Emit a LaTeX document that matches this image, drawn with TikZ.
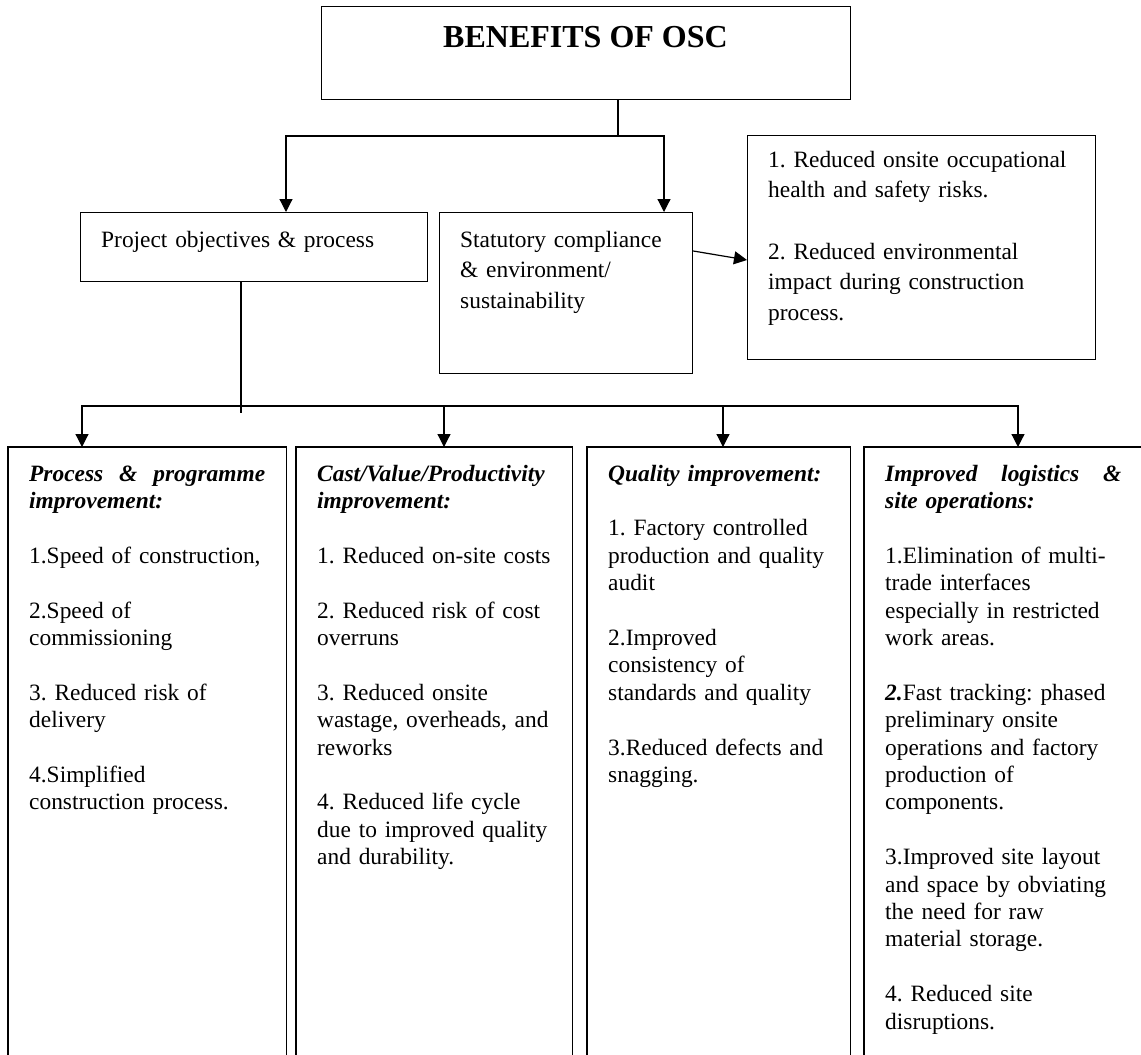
\documentclass[tikz,border=0pt]{standalone}
\usepackage{fontspec}
\setmainfont{Liberation Serif}
\usetikzlibrary{arrows.meta}
\newcommand{\txtsetup}{\frenchspacing\hyphenpenalty 10000\relax}
\newcommand{\headline}[1]{\hbox to 236pt{\bfseries\itshape #1}}
\tikzset{
  box/.style={draw, line width=1.2pt, inner sep=0pt, anchor=north west},
  colbox/.style={inner sep=0pt, anchor=north west},
  ln/.style={line width=1.2pt},
  arr/.style={line width=1.2pt, -{Triangle[width=13pt,length=13pt]}},
  coltext/.style={anchor=north west, inner sep=0pt, text width=250pt, align=left, font=\fontsize{23.4}{27.4}\selectfont\txtsetup},
  uptext/.style={anchor=north west, inner sep=0pt, text width=330pt, align=left, font=\fontsize{23.4}{30.6}\selectfont\txtsetup},
}
\begin{document}
\begin{tikzpicture}[x=1pt,y=-1pt]
\useasboundingbox (0,0) rectangle (1141,1055);
% boxes
\node[box, minimum width=529pt, minimum height=93pt] (title) at (321,6) {};
\node[box, minimum width=347pt, minimum height=69pt] (proj) at (80,212) {};
\node[box, minimum width=253pt, minimum height=161pt] (stat) at (439,212) {};
\node[box, minimum width=348pt, minimum height=224pt] (rbox) at (747,135) {};
% columns (open at bottom)
\node[colbox, minimum width=278pt, minimum height=613pt] (c1) at (8,447) {};
\node[colbox, minimum width=276pt, minimum height=613pt] (c2) at (296,447) {};
\node[colbox, minimum width=263pt, minimum height=613pt] (c3) at (587,447) {};
\node[colbox, minimum width=290pt, minimum height=613pt] (c4) at (864,447) {};
\draw[ln] (c1.south west) -- (c1.north west) -- (c1.north east) -- (c1.south east);
\draw[ln] (c2.south west) -- (c2.north west) -- (c2.north east) -- (c2.south east);
\draw[ln] (c3.south west) -- (c3.north west) -- (c3.north east) -- (c3.south east);
\draw[ln] (c4.south west) -- (c4.north west) -- (c4.north east);
% texts
\node[anchor=base, inner sep=0pt, font=\bfseries\fontsize{32}{36}\selectfont] (tt) at (585.5,47) {BENEFITS OF OSC};
\node[uptext] (tp) at (101,225.6) {\strut Project objectives \& process};
\node[uptext] (ts) at (460,225.6) {\strut Statutory compliance\\ \& environment/\\ sustainability};
\node[uptext] (tr) at (768,145.6) {\strut 1. Reduced onsite occupational\\ health and safety risks.\\[30.6pt] 2. Reduced environmental\\ impact during construction\\ process.};
\node[coltext] (t1) at (29,461.8) {\strut\headline{Process\hfill\&\hfill programme}\\ \textbf{\textit{improvement:}}\\[27.4pt]
1.Speed of construction,\\[27.4pt]
2.Speed of\\ commissioning\\[27.4pt]
3. Reduced risk of\\ delivery\\[27.4pt]
4.Simplified\\ construction process.};
\node[coltext] (t2) at (317,461.8) {\strut\textbf{\textit{Cast/Value/Productivity}}\\ \textbf{\textit{improvement:}}\\[27.4pt]
1. Reduced on-site costs\\[27.4pt]
2. Reduced risk of cost\\ overruns\\[27.4pt]
3. Reduced onsite\\ wastage, overheads, and\\ reworks\\[27.4pt]
4. Reduced life cycle\\ due to improved quality\\ and durability.};
\node[coltext] (t3) at (608,461.8) {\strut\textbf{\textit{Quality improvement:}}\\[27.4pt]
1. Factory controlled\\ production and quality\\ audit\\[27.4pt]
2.Improved\\ consistency of\\ standards and quality\\[27.4pt]
3.Reduced defects and\\ snagging.};
\node[coltext] (t4) at (885,461.8) {\strut\headline{Improved\hfill logistics\hfill\&}\\ \textbf{\textit{site operations:}}\\[27.4pt]
1.Elimination of multi-\\ trade interfaces\\ especially in restricted\\ work areas.\\[27.4pt]
\textbf{\textit{2.}}Fast tracking: phased\\ preliminary onsite\\ operations and factory\\ production of\\ components.\\[27.4pt]
3.Improved site layout\\ and space by obviating\\ the need for raw\\ material storage.\\[27.4pt]
4. Reduced site\\ disruptions.};
% connectors
\coordinate (j1) at (618,136);
\draw[ln] (j1 |- title.south) -- (j1);
\draw[arr] (j1) -| ([xshift=206pt]proj.north west);
\draw[arr] (j1) -| ([xshift=225pt]stat.north west);
\draw[arr] ([yshift=-39pt]stat.north east) -- ([yshift=-125pt]rbox.north west);
\coordinate (j2) at (241,406);
\draw[ln] (j2 |- proj.south) -- ++(0,131);
\draw[arr] (j2) -| ([xshift=74pt]c1.north west);
\draw[arr] (j2) -| ([xshift=148pt]c2.north west);
\draw[arr] (j2) -| ([xshift=136pt]c3.north west);
\draw[arr] (j2) -| ([xshift=154pt]c4.north west);
\end{tikzpicture}
\end{document}
